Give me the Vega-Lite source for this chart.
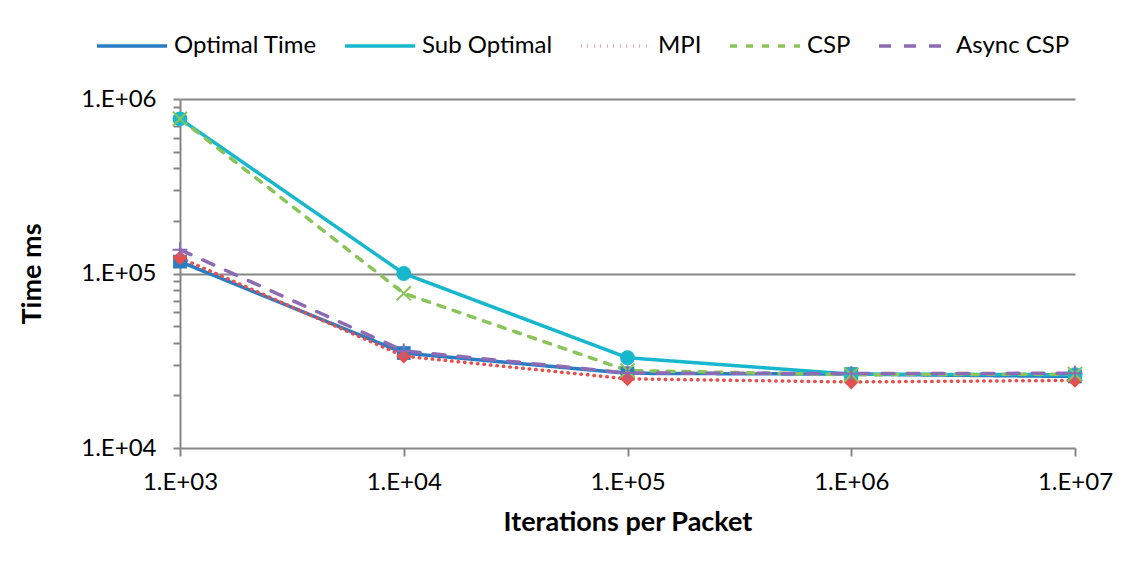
{
  "$schema": "https://vega.github.io/schema/vega-lite/v6.json",
  "width": 895,
  "height": 349,
  "autosize": {"type": "none"},
  "padding": {"left": 180, "top": 99, "right": 63, "bottom": 122},
  "background": "white",
  "config": {
    "font": "Lato",
    "view": {"stroke": null},
    "axis": {
      "labelFont": "Lato",
      "labelFontSize": 24,
      "labelColor": "#000000",
      "titleFont": "Lato",
      "titleFontSize": 27,
      "titleFontWeight": "bold",
      "titleColor": "#000000",
      "domainColor": "#868686",
      "domainWidth": 2,
      "tickColor": "#868686",
      "tickWidth": 2,
      "gridColor": "#868686",
      "gridWidth": 2
    }
  },
  "data": {
    "values": [
      {"series": "Optimal Time", "iter": 1000, "time": 117000},
      {"series": "Optimal Time", "iter": 10000, "time": 35000},
      {"series": "Optimal Time", "iter": 100000, "time": 26800},
      {"series": "Optimal Time", "iter": 1000000, "time": 26500},
      {"series": "Optimal Time", "iter": 10000000, "time": 25700},
      {"series": "Sub Optimal", "iter": 1000, "time": 770000},
      {"series": "Sub Optimal", "iter": 10000, "time": 100000},
      {"series": "Sub Optimal", "iter": 100000, "time": 32900},
      {"series": "Sub Optimal", "iter": 1000000, "time": 26500},
      {"series": "Sub Optimal", "iter": 10000000, "time": 26300},
      {"series": "MPI", "iter": 1000, "time": 123000},
      {"series": "MPI", "iter": 10000, "time": 33600},
      {"series": "MPI", "iter": 100000, "time": 24900},
      {"series": "MPI", "iter": 1000000, "time": 23900},
      {"series": "MPI", "iter": 10000000, "time": 24400},
      {"series": "CSP", "iter": 1000, "time": 770000},
      {"series": "CSP", "iter": 10000, "time": 77000},
      {"series": "CSP", "iter": 100000, "time": 27800},
      {"series": "CSP", "iter": 1000000, "time": 26300},
      {"series": "CSP", "iter": 10000000, "time": 26500},
      {"series": "Async CSP", "iter": 1000, "time": 137000},
      {"series": "Async CSP", "iter": 10000, "time": 36000},
      {"series": "Async CSP", "iter": 100000, "time": 26900},
      {"series": "Async CSP", "iter": 1000000, "time": 26700},
      {"series": "Async CSP", "iter": 10000000, "time": 26800}
    ]
  },
  "encoding": {
    "x": {
      "field": "iter",
      "type": "quantitative",
      "scale": {"type": "log", "domain": [1000, 10000000], "nice": false},
      "axis": {
        "title": "Iterations per Packet",
        "values": [1000, 10000, 100000, 1000000, 10000000],
        "labelExpr": "'1.E+0' + round(log(datum.value)/LN10)",
        "labelFlush": false,
        "grid": false,
        "tickSize": 8,
        "labelPadding": 14,
        "titlePadding": 15
      }
    },
    "y": {
      "field": "time",
      "type": "quantitative",
      "scale": {"type": "log", "domain": [10000, 1000000], "nice": false},
      "axis": {
        "title": "Time ms",
        "values": [10000, 20000, 30000, 40000, 50000, 60000, 70000, 80000, 90000, 100000, 200000, 300000, 400000, 500000, 600000, 700000, 800000, 900000, 1000000],
        "labelExpr": "(datum.value == 10000 || datum.value == 100000 || datum.value == 1000000) ? '1.E+0' + round(log(datum.value)/LN10) : ''",
        "labelFlush": false,
        "gridOpacity": {"condition": {"test": "datum.value == 100000 || datum.value == 1000000", "value": 1}, "value": 0},
        "tickSize": 7,
        "labelPadding": 17,
        "titlePadding": 34
      }
    }
  },
  "layer": [
    {
      "mark": {"type": "line", "strokeWidth": 3.5, "strokeCap": "round"},
      "encoding": {
        "color": {
          "field": "series",
          "type": "nominal",
          "scale": {
            "domain": ["Optimal Time", "Sub Optimal", "MPI", "CSP", "Async CSP"],
            "range": ["#2A7DC3", "#17B8CE", "#E5504F", "#88C458", "#8C6BB4"]
          },
          "legend": {
            "title": null,
            "orient": "none",
            "legendX": -85,
            "legendY": -90,
            "direction": "horizontal",
            "columns": 5,
            "symbolType": "stroke",
            "symbolSize": 4900,
            "symbolStrokeWidth": 3.5,
            "labelFont": "Lato",
            "labelFontSize": 24,
            "labelColor": "#000000",
            "labelOffset": 5,
            "columnPadding": 21,
            "labelLimit": 300
          }
        },
        "strokeDash": {
          "field": "series",
          "type": "nominal",
          "scale": {
            "domain": ["Optimal Time", "Sub Optimal", "MPI", "CSP", "Async CSP"],
            "range": [[1, 0], [1, 0], [0.5, 6], [7, 9], [12, 13]]
          }
        }
      }
    },
    {
      "transform": [{"filter": "datum.series == 'Optimal Time'"}],
      "mark": {"type": "point", "shape": "square", "filled": true, "color": "#2A7DC3", "size": 190, "opacity": 1}
    },
    {
      "transform": [{"filter": "datum.series == 'Sub Optimal'"}],
      "mark": {"type": "point", "shape": "circle", "filled": true, "color": "#17B8CE", "size": 220, "opacity": 1}
    },
    {
      "transform": [{"filter": "datum.series == 'MPI'"}],
      "mark": {"type": "point", "shape": "diamond", "filled": true, "color": "#E5504F", "size": 220, "opacity": 1}
    },
    {
      "transform": [{"filter": "datum.series == 'CSP'"}],
      "mark": {"type": "point", "shape": "M-1,-1L1,1M-1,1L1,-1", "filled": false, "color": "#88C458", "strokeWidth": 2, "size": 200, "opacity": 1}
    },
    {
      "transform": [{"filter": "datum.series == 'Async CSP'"}],
      "mark": {"type": "point", "shape": "M-1,0L1,0M0,-1L0,1", "filled": false, "color": "#8C6BB4", "strokeWidth": 2, "size": 220, "opacity": 1}
    }
  ]
}
